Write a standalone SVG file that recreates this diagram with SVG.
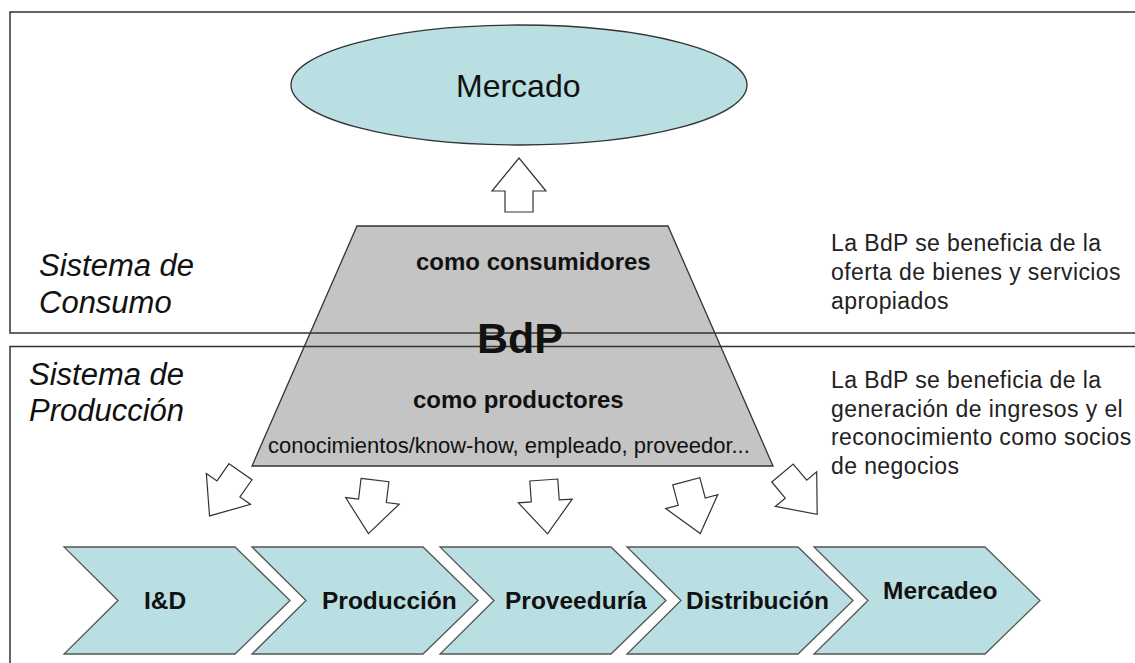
<svg xmlns="http://www.w3.org/2000/svg" width="1135" height="663" viewBox="0 0 1135 663">
<defs>
<style>
.frame{fill:none;stroke:#333;stroke-width:1.5}
.blue{fill:#b9dfe3;stroke:#555;stroke-width:1.3}
.arrow{fill:#fff;stroke:#333;stroke-width:1.2;stroke-linejoin:miter}
.lbl{font-family:"Liberation Sans",Arial,sans-serif;fill:#111}
.b{font-weight:bold}
.it{font-style:italic;font-size:31px}
.note{font-size:23px;fill:#222;letter-spacing:0.4px}
.chev{font-size:24.5px;font-weight:bold}
</style>
<polygon id="arr" points="-14,0 14,0 14,21 27,21 0,54 -27,21 -14,21"/>
</defs>
<rect width="1135" height="663" fill="#fff"/>

<g id="bdp">
<polygon points="357,226 668,226 773,466 252,466" fill="#c4c4c4" stroke="#333" stroke-width="1.3"/>
</g>

<g id="sistema-consumo">
<rect class="frame" x="10" y="12" width="1140" height="321"/>
<text class="lbl it" x="39" y="276">Sistema de</text>
<text class="lbl it" x="39" y="313">Consumo</text>
</g>
<g id="sistema-produccion">
<rect class="frame" x="10" y="346.5" width="1140" height="330"/>
<text class="lbl it" x="29" y="385">Sistema de</text>
<text class="lbl it" x="29" y="421">Producción</text>
</g>

<g id="bdp-text">
<text class="lbl b" x="416" y="270" font-size="24">como consumidores</text>
<text class="lbl b" x="477" y="353" font-size="43" fill="#000">BdP</text>
<text class="lbl b" x="413" y="408" font-size="24">como productores</text>
<text class="lbl" x="268" y="453" font-size="22" fill="#222">conocimientos/know-how, empleado, proveedor...</text>
</g>

<g id="mercado">
<ellipse cx="519" cy="85" rx="228" ry="60" fill="#b9dfe3" stroke="#333" stroke-width="1.3"/>
<text class="lbl" x="456" y="97" font-size="32">Mercado</text>
</g>

<g id="nota-consumo">
<text class="lbl note" x="831" y="251">La BdP se beneficia de la</text>
<text class="lbl note" x="831" y="280">oferta de bienes y servicios</text>
<text class="lbl note" x="831" y="309">apropiados</text>
</g>
<g id="nota-produccion">
<text class="lbl note" x="831" y="388">La BdP se beneficia de la</text>
<text class="lbl note" x="831" y="416.5">generación de ingresos y el</text>
<text class="lbl note" x="831" y="445">reconocimiento como socios</text>
<text class="lbl note" x="831" y="473.5">de negocios</text>
</g>

<g id="cadena">
<g id="id-chev"><polygon class="blue" points="64,547 235,547 290,600.5 235,654 64,654 118,600.5"/>
<text class="lbl chev" x="144" y="609">I&amp;D</text></g>
<g id="produccion-chev"><polygon class="blue" points="252,547 423,547 478,600.5 423,654 252,654 306,600.5"/>
<text class="lbl chev" x="322" y="609">Producción</text></g>
<g id="proveeduria-chev"><polygon class="blue" points="440,547 611,547 666,600.5 611,654 440,654 494,600.5"/>
<text class="lbl chev" x="505" y="609">Proveeduría</text></g>
<g id="distribucion-chev"><polygon class="blue" points="627,547 798,547 853,600.5 798,654 627,654 681,600.5"/>
<text class="lbl chev" x="686" y="609">Distribución</text></g>
<g id="mercadeo-chev"><polygon class="blue" points="814,547 985,547 1040,600.5 985,654 814,654 868,600.5"/>
<text class="lbl chev" x="883" y="599">Mercadeo</text></g>
</g>

<g id="connectors">
<use href="#arr" class="arrow" transform="translate(519,212) rotate(180)"/>
<use href="#arr" class="arrow" transform="translate(240.5,471.7) rotate(35)"/>
<use href="#arr" class="arrow" transform="translate(375,480) rotate(7)"/>
<use href="#arr" class="arrow" transform="translate(543.8,480) rotate(-4)"/>
<use href="#arr" class="arrow" transform="translate(686.3,481.3) rotate(-15)"/>
<use href="#arr" class="arrow" transform="translate(782.5,473) rotate(-40)"/>
</g>
</svg>
